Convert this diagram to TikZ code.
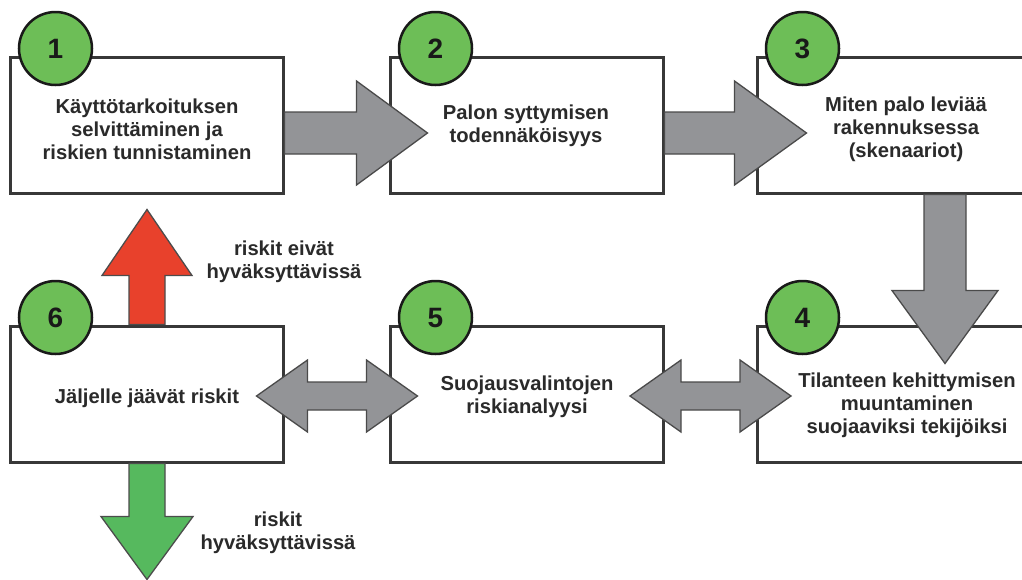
\documentclass[tikz,border=0pt]{standalone}
\usepackage{fontspec}
\setmainfont{Liberation Sans}
\usetikzlibrary{calc}
\definecolor{boxline}{HTML}{383838}
\definecolor{txtcol}{HTML}{2A2A2A}
\definecolor{circfill}{HTML}{6DBE57}
\definecolor{garfill}{HTML}{939497}
\definecolor{garline}{HTML}{4A4A4A}
\definecolor{redfill}{HTML}{E8412C}
\definecolor{grnfill}{HTML}{56B95E}
\tikzset{
  stepbox/.style={draw=boxline, line width=3pt, fill=white, rectangle, minimum height=136pt, inner sep=0pt},
  numcirc/.style={draw=black!90, line width=2.5pt, fill=circfill, circle, minimum size=73pt, inner sep=0pt,
    font=\fontsize{28}{30}\selectfont\bfseries, text=black!90},
  txt/.style={align=center, font=\fontsize{20.2}{22.8}\selectfont\bfseries, text=txtcol, inner sep=0pt},
  garrow/.style={fill=garfill, draw=garline, line width=1.3pt, line join=miter},
  redarrow/.style={fill=redfill, draw=black!70, line width=1.3pt, line join=miter},
  grnarrow/.style={fill=grnfill, draw=black!70, line width=1.3pt, line join=miter}
}
\begin{document}
\begin{tikzpicture}[x=1pt,y=-1pt]
\useasboundingbox (0,0) rectangle (1022,579);
\clip (0,0) rectangle (1022,579);
\fill[white] (0,0) rectangle (1022,579);
% boxes
\node[stepbox, minimum width=273pt] (b1) at (146.5,125) {};
\node[stepbox, minimum width=273pt] (b2) at (526.5,125) {};
\node[stepbox, minimum width=300pt] (b3) at (907,125) {};
\node[stepbox, minimum width=300pt] (b4) at (907,394) {};
\node[stepbox, minimum width=273pt] (b5) at (526.5,394) {};
\node[stepbox, minimum width=273pt] (b6) at (146.5,394) {};
% texts
\node[txt] (t1) at (147,129) {Käyttötarkoituksen\\selvittäminen ja\\riskien tunnistaminen};
\node[txt] (t2) at (526,126) {Palon syttymisen\\todennäköisyys};
\node[txt] (t3) at (906,129) {Miten palo leviää\\rakennuksessa\\(skenaariot)};
\node[txt] (t4) at (907,405) {Tilanteen kehittymisen\\muuntaminen\\suojaaviksi tekijöiksi};
\node[txt] (t5) at (527,397) {Suojausvalintojen\\riskianalyysi};
\node[txt] (t6) at (147,398) {Jäljelle jäävät riskit};
% number circles
\node[numcirc] (c1) at ($(b1.north west)+(47,-7)$) {1};
\node[numcirc] (c2) at ($(b2.north west)+(47,-7)$) {2};
\node[numcirc] (c3) at ($(b3.north west)+(47,-7)$) {3};
\node[numcirc] (c4) at ($(b4.north west)+(47,-7)$) {4};
\node[numcirc] (c5) at ($(b5.north west)+(47,-7)$) {5};
\node[numcirc] (c6) at ($(b6.north west)+(47,-7)$) {6};
% arrow 1 -> 2
\draw[garrow] ($(b1.east)+(0,-13)$) -- ++(72,0) -- ++(0,-31) -- ++(71,52) -- ++(-71,52) -- ++(0,-31) -- ++(-72,0) -- cycle;
% arrow 2 -> 3
\draw[garrow] ($(b2.east)+(0,-13)$) -- ++(70,0) -- ++(0,-31) -- ++(72,52) -- ++(-72,52) -- ++(0,-31) -- ++(-70,0) -- cycle;
% arrow 3 -> 4
\draw[garrow] ($(b3.south)+(17,0)$) -- ++(0,96) -- ++(-32,0) -- ++(53,73) -- ++(53,-73) -- ++(-32,0) -- ++(0,-96) -- cycle;
% double arrow 6 <-> 5
\draw[garrow] ($(b6.east)!0.5!(b5.west)+(-80,2)$) -- ++(51,-36) -- ++(0,22) -- ++(59,0) -- ++(0,-22) -- ++(51,36) -- ++(-51,36) -- ++(0,-22) -- ++(-59,0) -- ++(0,22) -- cycle;
% double arrow 5 <-> 4
\draw[garrow] ($(b5.east)!0.5!(b4.west)+(-80,2)$) -- ++(51,-36) -- ++(0,22) -- ++(59,0) -- ++(0,-22) -- ++(51,36) -- ++(-51,36) -- ++(0,-22) -- ++(-59,0) -- ++(0,22) -- cycle;
% red arrow up
\draw[redarrow] ($(b6.north)+(-17.5,0)$) -- ++(0,-49) -- ++(-27,0) -- ++(45,-66) -- ++(45,66) -- ++(-27,0) -- ++(0,49) -- cycle;
% green arrow down
\draw[grnarrow] ($(b6.south)+(-17.5,0)$) -- ++(0,53) -- ++(-28,0) -- ++(46,63) -- ++(46,-63) -- ++(-28,0) -- ++(0,-53) -- cycle;
% labels
\node[txt] (lred) at (284,262) {riskit eivät\\hyväksyttävissä};
\node[txt] (lgrn) at (278,533) {riskit\\hyväksyttävissä};
\end{tikzpicture}
\end{document}
